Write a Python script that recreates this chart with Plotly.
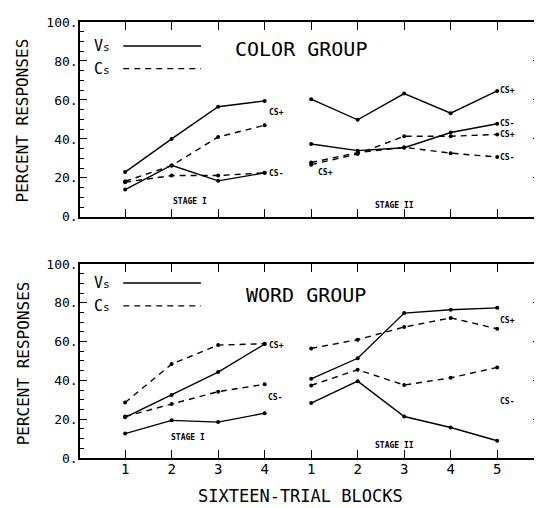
import plotly.graph_objects as go

# ---------------- data ----------------
stage1_blocks = [1, 2, 3, 4]
stage2_blocks = [1, 2, 3, 4, 5]
x_tick_labels = ["1", "2", "3", "4", "1", "2", "3", "4", "5"]
y_tick_vals = [0, 20, 40, 60, 80, 100]
y_tick_labels = ["0.", "20.", "40.", "60.", "80.", "100."]

# Color group
color_vs_csplus_s1 = [23, 40, 56.5, 59.5]
color_vs_csminus_s1 = [14, 26.5, 18.5, 22.6]
color_cs_csplus_s1 = [18.3, 26.3, 41, 47]
color_cs_csminus_s1 = [17.8, 21.2, 21.2, 22.6]
color_vs_csplus_s2 = [60.4, 49.8, 63.3, 53.2, 64.6]
color_vs_csminus_s2 = [37.4, 34, 35.5, 43.3, 47.8]
color_cs_csplus_s2 = [26.8, 32.3, 41.4, 41.4, 42.3]
color_cs_csminus_s2 = [27.9, 33, 35.7, 32.7, 30.7]

# Word group
word_vs_csplus_s1 = [21, 32.5, 44.3, 58.7]
word_vs_csminus_s1 = [12.6, 19.4, 18.5, 23.1]
word_cs_csplus_s1 = [28.6, 48.4, 58.2, 58.9]
word_cs_csminus_s1 = [21.4, 27.8, 34.2, 38]
word_vs_csplus_s2 = [40.8, 51.4, 74.7, 76.4, 77.4]
word_vs_csminus_s2 = [28.3, 39.6, 21.4, 15.7, 8.9]
word_cs_csplus_s2 = [56.5, 61, 67.5, 72.2, 66.6]
word_cs_csminus_s2 = [37.4, 45.5, 37.6, 41.3, 46.7]

# ---------------- figure ----------------
FONT = "DejaVu Sans Mono"
n1 = len(stage1_blocks)
pos_s1 = [b for b in stage1_blocks]
pos_s2 = [b + n1 for b in stage2_blocks]

fig = go.Figure()


def add_line(x, y, dashed, xa, ya):
    fig.add_trace(go.Scatter(
        x=x, y=y, mode="lines+markers",
        line=dict(color="black", width=1.4, dash="6px,5px" if dashed else "solid"),
        marker=dict(color="black", size=4),
        xaxis=xa, yaxis=ya, showlegend=False, hoverinfo="skip"))


panels = [
    ("x", "y", [
        (pos_s1, color_vs_csplus_s1, False), (pos_s1, color_vs_csminus_s1, False),
        (pos_s1, color_cs_csplus_s1, True), (pos_s1, color_cs_csminus_s1, True),
        (pos_s2, color_vs_csplus_s2, False), (pos_s2, color_vs_csminus_s2, False),
        (pos_s2, color_cs_csplus_s2, True), (pos_s2, color_cs_csminus_s2, True)]),
    ("x2", "y2", [
        (pos_s1, word_vs_csplus_s1, False), (pos_s1, word_vs_csminus_s1, False),
        (pos_s1, word_cs_csplus_s1, True), (pos_s1, word_cs_csminus_s1, True),
        (pos_s2, word_vs_csplus_s2, False), (pos_s2, word_vs_csminus_s2, False),
        (pos_s2, word_cs_csplus_s2, True), (pos_s2, word_cs_csminus_s2, True)]),
]
for xa, ya, series in panels:
    for x, y, d in series:
        add_line(x, y, d, xa, ya)

all_pos = pos_s1 + pos_s2

xcommon = dict(range=[0.03, 9.92], tickvals=all_pos, ticks="inside", ticklen=8,
               tickwidth=1.3, tickcolor="black", showline=True, linecolor="black",
               linewidth=1.5, mirror="ticks", showgrid=False, zeroline=False,
               ticklabelstandoff=-3,
               tickfont=dict(family=FONT, size=14, color="black"))
ycommon = dict(range=[0, 100], tickvals=y_tick_vals, ticktext=y_tick_labels,
               ticks="inside", ticklen=7, tickwidth=1.3, tickcolor="black",
               showline=True, linecolor="black", linewidth=1.5, mirror="ticks",
               showgrid=False, zeroline=False, ticklabelstandoff=-2,
               minor=dict(ticks="inside", ticklen=4, dtick=5, tickcolor="black",
                          tickwidth=1),
               tickfont=dict(family=FONT, size=13, color="black"))

# page body adds an 8px offset; margins compensate so the plot frame lands
# where the reference has it
fig.update_layout(
    width=542, height=508,
    margin=dict(l=72, r=10, t=7, b=58),
    paper_bgcolor="white", plot_bgcolor="white",
    xaxis=dict(domain=[0, 1], anchor="y", showticklabels=False, **xcommon),
    yaxis=dict(domain=[0.553, 1], anchor="x", **ycommon),
    xaxis2=dict(domain=[0, 1], anchor="y2", ticktext=x_tick_labels, **xcommon),
    yaxis2=dict(domain=[0, 0.445], anchor="x2", **ycommon),
    showlegend=False,
)

ann = []


def txt(text, x, y, xref, yref, size, **kw):
    d = dict(text=text, x=x, y=y, xref=xref, yref=yref, showarrow=False,
             xanchor="center", yanchor="middle",
             font=dict(family=FONT, size=size, color="black"))
    d.update(kw)
    ann.append(d)


# group titles
txt("COLOR GROUP", 4.78, 86, "x", "y", 20)
txt("WORD GROUP", 4.89, 84.2, "x2", "y2", 20)

# stage labels
txt("<b>STAGE I</b>", 2.4, 8.1, "x", "y", 8)
txt("<b>STAGE II</b>", 6.8, 6, "x", "y", 8)
txt("<b>STAGE I</b>", 2.35, 10.8, "x2", "y2", 8)
txt("<b>STAGE II</b>", 6.8, 6.7, "x2", "y2", 8)

# CS labels, top
for x, y, t in [(4.25, 53.5, "CS+"), (4.25, 22.2, "CS-"), (9.22, 64.6, "CS+"),
                (9.22, 47.8, "CS-"), (9.22, 42.3, "CS+"), (9.22, 30.7, "CS-"),
                (5.3, 22.6, "CS+")]:
    txt("<b>" + t + "</b>", x, y, "x", "y", 8)
# CS labels, bottom
for x, y, t in [(4.25, 57.8, "CS+"), (4.22, 31.2, "CS-"), (9.22, 71, "CS+"),
                (9.2, 29.2, "CS-")]:
    txt("<b>" + t + "</b>", x, y, "x2", "y2", 8)

# legend keys
for xa, ya, yv, yc in [("x", "y", 87.7, 76.1), ("x2", "y2", 90.2, 78.4)]:
    txt("V<span style='font-size:11px'>s</span>", 0.29, yv, xa, ya, 15, xanchor="left")
    txt("C<span style='font-size:11px'>s</span>", 0.29, yc, xa, ya, 15, xanchor="left")
    fig.add_shape(type="line", xref=xa, yref=ya, x0=0.96, x1=2.63, y0=yv, y1=yv,
                  line=dict(color="black", width=1.4))
    fig.add_shape(type="line", xref=xa, yref=ya, x0=0.96, x1=2.63, y0=yc, y1=yc,
                  line=dict(color="black", width=1.4, dash="6px,5px"))

# axis titles
txt("PERCENT RESPONSES", -0.124, 0.774, "paper", "paper", 16, textangle=-90)
txt("PERCENT RESPONSES", -0.124, 0.217, "paper", "paper", 16, textangle=-90)
txt("SIXTEEN-TRIAL BLOCKS", 0.48, -0.088, "paper", "paper", 17)

fig.update_layout(annotations=ann)
fig.write_html("out.html")
